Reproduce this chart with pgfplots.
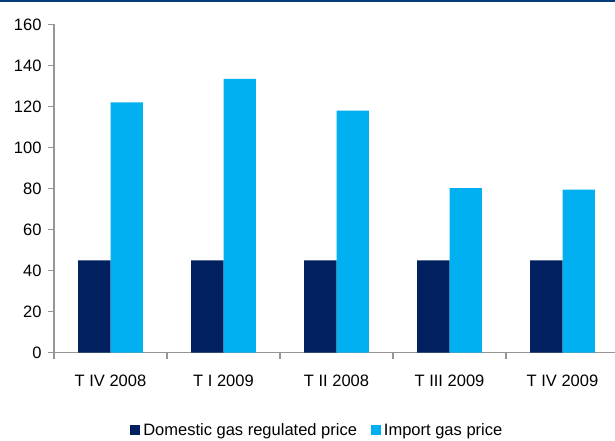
\documentclass[border=0pt]{standalone}
\usepackage{pgfplots}
\pgfplotsset{compat=1.18}
\usepackage{fontspec}
\setmainfont{Liberation Sans}

\definecolor{domestic}{RGB}{0,32,96}
\definecolor{import}{RGB}{0,176,240}
\definecolor{axisgray}{RGB}{150,150,150}
\definecolor{topband}{RGB}{0,61,121}

\begin{document}
\begin{tikzpicture}[x=1bp,y=1bp]
\path[use as bounding box] (0,0) rectangle (615,-441);
\draw[topband, line width=2bp] (0,-1) -- (615,-1);
\begin{axis}[
  at={(54bp,-352.5bp)}, anchor=south west,
  scale only axis, width=565bp, height=328bp,
  xmin=0.5, xmax=5.5, ymin=0, ymax=160,
  ytick={0,20,...,160},
  xtick={1,...,5},
  xticklabels={T IV 2008, T I 2009, T II 2008, T III 2009, T IV 2009},
  minor xtick={0.5,1.5,...,5.5},
  axis lines*=left,
  axis line style={axisgray, line width=1.6bp},
  every tick/.style={axisgray, line width=1.6bp},
  tick align=outside,
  major tick length=6bp,
  minor tick length=6bp,
  major x tick style={draw=none},
  tick label style={font=\fontsize{16.5bp}{19bp}\selectfont, text=black},
  /pgf/number format/assume math mode=true,
  yticklabel style={xshift=-3bp},
  xticklabel style={yshift=-13bp},
  ybar=0pt, bar width=32.4bp,
  legend columns=2,
  legend style={at={(0.466,-0.236)}, anchor=center, draw=none, fill=none,
    font=\fontsize{16.5bp}{19bp}\selectfont,
    /tikz/every even column/.append style={column sep=12bp},
    /tikz/every odd column/.append style={column sep=1bp}},
  legend cell align=left,
  legend image code/.code={\fill[#1] (0bp,-5bp) rectangle (10bp,5bp);},
]
\addplot[fill=domestic, draw=none] coordinates {(1,45) (2,45) (3,45) (4,45) (5,45)};
\addplot[fill=import, draw=none] coordinates {(1,122) (2,133.5) (3,118) (4,80.2) (5,79.5)};
\legend{Domestic gas regulated price, Import gas price}
\end{axis}
\end{tikzpicture}
\end{document}
